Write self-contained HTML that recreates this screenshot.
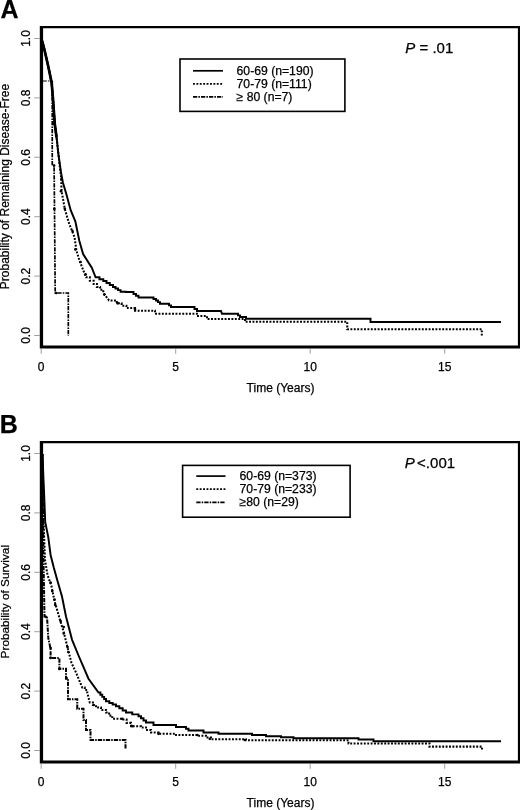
<!DOCTYPE html>
<html lang="en"><head><meta charset="utf-8"><title>Figure</title>
<style>
html,body{margin:0;padding:0;background:#fff;}
body{width:520px;height:810px;overflow:hidden;}
svg{display:block;filter:blur(0.4px);font-family:"Liberation Sans",Arial,Helvetica,sans-serif;fill:#000;}
text{stroke:#000;stroke-width:0.25px;}
.t{font-size:12px;}
.tb{font-size:11.8px;}
.l{font-size:12.2px;}
.p{font-size:15px;}
.L{font-size:25px;font-weight:bold;fill:#000;}
.c{fill:none;stroke:#000;stroke-linejoin:miter;}
.so{stroke-width:1.95;}
.do{stroke-width:2.05;stroke-dasharray:1.9 1.5;}
.dd{stroke-width:1.9;stroke-dasharray:4.3 1.1 1.5 1.1;}
</style></head>
<body>
<svg width="520" height="810" viewBox="0 0 520 810">
<rect width="520" height="810" fill="#fff"/>
<path fill-rule="evenodd" fill="#000" stroke="none" d="M39.8,26 H521 V348.6 H39.8 Z M43.1,28.3 V345.4 H517.9 V28.3 Z"/>
<line x1="34.2" x2="39.8" y1="38.50" y2="38.50" stroke="#777" stroke-width="0.7"/>
<text class="t" transform="translate(29.5,38.50) rotate(-90)" text-anchor="middle">1.0</text>
<line x1="34.2" x2="39.8" y1="97.90" y2="97.90" stroke="#777" stroke-width="0.7"/>
<text class="t" transform="translate(29.5,97.90) rotate(-90)" text-anchor="middle">0.8</text>
<line x1="34.2" x2="39.8" y1="157.30" y2="157.30" stroke="#777" stroke-width="0.7"/>
<text class="t" transform="translate(29.5,157.30) rotate(-90)" text-anchor="middle">0.6</text>
<line x1="34.2" x2="39.8" y1="216.70" y2="216.70" stroke="#777" stroke-width="0.7"/>
<text class="t" transform="translate(29.5,216.70) rotate(-90)" text-anchor="middle">0.4</text>
<line x1="34.2" x2="39.8" y1="276.10" y2="276.10" stroke="#777" stroke-width="0.7"/>
<text class="t" transform="translate(29.5,276.10) rotate(-90)" text-anchor="middle">0.2</text>
<line x1="34.2" x2="39.8" y1="335.50" y2="335.50" stroke="#777" stroke-width="0.7"/>
<text class="t" transform="translate(29.5,335.50) rotate(-90)" text-anchor="middle">0.0</text>
<line x1="41.20" x2="41.20" y1="348.60" y2="353.80" stroke="#777" stroke-width="0.7"/>
<text class="t" x="41.20" y="371.30" text-anchor="middle">0</text>
<line x1="175.70" x2="175.70" y1="348.60" y2="353.80" stroke="#777" stroke-width="0.7"/>
<text class="t" x="175.70" y="371.30" text-anchor="middle">5</text>
<line x1="310.20" x2="310.20" y1="348.60" y2="353.80" stroke="#777" stroke-width="0.7"/>
<text class="t" x="310.20" y="371.30" text-anchor="middle">10</text>
<line x1="444.70" x2="444.70" y1="348.60" y2="353.80" stroke="#777" stroke-width="0.7"/>
<text class="t" x="444.70" y="371.30" text-anchor="middle">15</text>
<text class="t" x="280.5" y="392.40" text-anchor="middle">Time (Years)</text>
<text class="t" transform="translate(9.2,186.50) rotate(-90)" text-anchor="middle">Probability of Remaining Disease-Free</text>
<polyline class="c dd" style="stroke-width:1.1" points="42.50,81.00 52.25,81.00"/>
<polyline class="c" style="stroke-width:2.7" points="42,40.5 44.75,51 48.5,67.5 51.6,82.5 53,99 54.75,124 56.6,137.5"/>
<polyline class="c so" points="42.00,41.00 43.00,44.00 44.75,51.00 48.50,67.50 51.60,82.50 53.00,99.00 54.75,124.00 56.60,137.50 58.50,155.00 61.00,172.50 62.90,182.50 66.60,195.00 70.60,210.00 75.40,221.50 79.30,240.80 83.10,254.00 91.80,267.70 95.60,277.30 99.45,277.30 99.45,279.15 103.30,279.15 103.30,281.00 106.53,281.00 106.53,283.00 109.77,283.00 109.77,285.00 113.00,285.00 113.00,287.00 115.53,287.00 115.53,288.57 118.07,288.57 118.07,290.13 120.60,290.13 120.60,291.70 126.00,291.70 126.00,292.00 133.50,292.00 133.50,294.00 136.00,294.00 136.00,295.75 138.50,295.75 138.50,297.50 151.00,297.50 153.50,297.50 153.50,299.00 156.00,299.00 156.00,300.50 158.00,300.50 158.00,302.12 160.00,302.12 160.00,303.75 167.00,303.75 169.00,303.75 169.00,305.38 171.00,305.38 171.00,307.00 192.00,307.00 194.50,307.00 194.50,309.00 197.00,309.00 197.00,311.00 221.00,311.00 222.00,313.75 236.00,313.75 238.00,313.75 238.00,315.38 240.00,315.38 240.00,317.00 246.00,317.00 246.00,318.75 370.50,318.75 370.50,322.00 501.00,322.00"/>
<polyline class="c do" points="42.00,41.00 43.00,44.00 44.75,51.00 48.50,67.50 51.60,82.50 53.00,99.00 54.75,124.00 56.60,137.50 58.50,155.00 60.50,172.50 61.00,176.00 61.60,191.00 64.75,208.75 68.70,222.50 74.50,237.00 76.40,250.40 79.30,260.00 86.00,277.30 89.85,277.30 89.85,280.65 93.70,280.65 93.70,284.00 96.90,284.00 96.90,286.90 100.10,286.90 100.10,289.80 103.30,289.80 103.30,292.70 109.00,300.40 116.80,300.40 116.80,303.30 121.60,303.30 121.60,305.65 126.40,305.65 126.40,308.00 135.00,308.00 135.00,310.75 151.00,310.75 155.00,310.75 155.00,313.75 192.00,313.75 197.00,313.75 197.00,316.00 203.50,316.00 207.00,316.00 207.00,319.00 245.00,319.00 245.00,321.75 347.25,321.75 347.25,329.20 481.80,329.20 481.80,335.50"/>
<polyline class="c dd" style="stroke-width:1.7" points="52.25,81.00 52.25,165.60 54.10,165.60 54.50,208.75 55.20,293.00 68.30,293.00 68.30,336.00"/>
<g fill="#000"><circle cx="56.2" cy="293.0" r="1.35"/><circle cx="72.5" cy="231.0" r="1.35"/><circle cx="75.4" cy="249.4" r="1.35"/><circle cx="80.6" cy="262.0" r="1.35"/><circle cx="85.6" cy="274.4" r="1.35"/><circle cx="104.3" cy="294.6" r="1.35"/><circle cx="117.7" cy="303.3" r="1.35"/><circle cx="135.0" cy="309.0" r="1.35"/><circle cx="54.1" cy="123.8" r="1.35"/><circle cx="54.1" cy="165.6" r="1.35"/><circle cx="61.6" cy="178.8" r="1.35"/><circle cx="61.0" cy="191.2" r="1.35"/><circle cx="64.8" cy="208.8" r="1.35"/><circle cx="54.3" cy="208.8" r="1.35"/></g>
<rect x="180" y="59" width="164.9" height="52.4" fill="#fff" stroke="#000" stroke-width="1.6"/>
<line class="c so" style="stroke-width:1.7" x1="193" x2="223" y1="70.8" y2="70.8"/>
<text class="l" x="236.6" y="74.90">60-69 (n=190)</text>
<line class="c do" style="stroke-width:1.7" x1="193" x2="223" y1="83.9" y2="83.9"/>
<text class="l" x="236.6" y="87.95">70-79 (n=111)</text>
<line class="c dd" style="stroke-width:1.7" x1="193" x2="223" y1="96.8" y2="96.8"/>
<text class="l" x="236.6" y="101.00">≥ 80 (n=7)</text>
<text class="p" x="405.3" y="53"><tspan font-style="italic">P</tspan> = .01</text>
<text class="L" x="0.6" y="18">A</text>
<path fill-rule="evenodd" fill="#000" stroke="none" d="M39.8,441 H521 V763.6 H39.8 Z M43.1,443.3 V760.4 H517.9 V443.3 Z"/>
<line x1="34.2" x2="39.8" y1="453.50" y2="453.50" stroke="#777" stroke-width="0.7"/>
<text class="t" transform="translate(29.5,453.50) rotate(-90)" text-anchor="middle">1.0</text>
<line x1="34.2" x2="39.8" y1="512.90" y2="512.90" stroke="#777" stroke-width="0.7"/>
<text class="t" transform="translate(29.5,512.90) rotate(-90)" text-anchor="middle">0.8</text>
<line x1="34.2" x2="39.8" y1="572.30" y2="572.30" stroke="#777" stroke-width="0.7"/>
<text class="t" transform="translate(29.5,572.30) rotate(-90)" text-anchor="middle">0.6</text>
<line x1="34.2" x2="39.8" y1="631.70" y2="631.70" stroke="#777" stroke-width="0.7"/>
<text class="t" transform="translate(29.5,631.70) rotate(-90)" text-anchor="middle">0.4</text>
<line x1="34.2" x2="39.8" y1="691.10" y2="691.10" stroke="#777" stroke-width="0.7"/>
<text class="t" transform="translate(29.5,691.10) rotate(-90)" text-anchor="middle">0.2</text>
<line x1="34.2" x2="39.8" y1="750.50" y2="750.50" stroke="#777" stroke-width="0.7"/>
<text class="t" transform="translate(29.5,750.50) rotate(-90)" text-anchor="middle">0.0</text>
<line x1="41.20" x2="41.20" y1="763.60" y2="768.80" stroke="#777" stroke-width="0.7"/>
<text class="t" x="41.20" y="786.30" text-anchor="middle">0</text>
<line x1="175.70" x2="175.70" y1="763.60" y2="768.80" stroke="#777" stroke-width="0.7"/>
<text class="t" x="175.70" y="786.30" text-anchor="middle">5</text>
<line x1="310.20" x2="310.20" y1="763.60" y2="768.80" stroke="#777" stroke-width="0.7"/>
<text class="t" x="310.20" y="786.30" text-anchor="middle">10</text>
<line x1="444.70" x2="444.70" y1="763.60" y2="768.80" stroke="#777" stroke-width="0.7"/>
<text class="t" x="444.70" y="786.30" text-anchor="middle">15</text>
<text class="t" x="280.5" y="807.40" text-anchor="middle">Time (Years)</text>
<text class="tb" transform="translate(9.2,601.70) rotate(-90)" text-anchor="middle">Probability of Survival</text>
<polyline class="c so" points="42.50,454.00 43.50,480.00 44.00,491.00 45.20,522.00 48.30,537.30 50.60,555.00 53.70,567.30 57.50,581.00 62.00,596.50 66.00,616.50 72.00,639.60 78.30,655.00 88.50,678.75 98.50,692.50 100.38,692.50 100.38,694.69 102.25,694.69 102.25,696.88 104.12,696.88 104.12,699.06 106.00,699.06 106.00,701.25 109.33,701.25 109.33,702.92 112.67,702.92 112.67,704.58 116.00,704.58 116.00,706.25 119.33,706.25 119.33,708.33 122.67,708.33 122.67,710.42 126.00,710.42 126.00,712.50 132.25,712.50 132.25,714.38 138.50,714.38 138.50,716.25 141.00,716.25 141.00,718.33 143.50,718.33 143.50,720.42 146.00,720.42 146.00,722.50 153.50,722.50 153.50,725.00 172.00,725.00 176.00,725.00 176.00,727.00 183.50,727.00 186.00,727.00 186.00,728.75 188.50,728.75 188.50,730.50 201.00,730.50 203.50,730.50 203.50,732.50 216.00,732.50 218.50,732.50 218.50,733.75 248.50,733.75 252.00,733.75 252.00,735.00 261.00,735.00 266.00,735.00 266.00,736.25 278.50,736.25 281.00,736.25 281.00,737.25 286.00,737.25 293.50,737.25 293.50,738.25 356.00,738.25 358.50,738.25 358.50,739.50 371.00,739.50 373.50,739.50 373.50,741.20 501.00,741.20"/>
<polyline class="c do" points="42.50,454.00 43.50,520.00 45.00,560.00 47.50,575.00 51.40,585.80 54.50,601.00 59.00,616.50 63.70,632.00 67.50,647.30 71.40,662.70 76.00,672.50 82.25,687.50 84.75,687.50 84.75,690.00 87.25,690.00 87.25,692.50 89.75,702.50 92.88,702.50 92.88,705.00 96.00,705.00 96.00,707.50 101.00,707.50 101.00,710.00 106.00,710.00 106.00,712.50 109.12,712.50 109.12,715.62 112.25,715.62 112.25,718.75 122.25,718.75 122.25,719.50 126.62,719.50 126.62,722.88 131.00,722.88 131.00,726.25 141.00,726.25 141.00,727.50 146.00,727.50 146.00,730.00 151.00,730.00 151.00,732.50 158.50,732.50 158.50,733.75 172.00,733.75 175.00,733.75 175.00,735.00 196.00,735.00 197.00,735.00 197.00,735.75 206.00,735.75 206.00,737.50 211.00,737.50 211.00,739.25 243.50,739.25 246.00,739.25 246.00,740.25 348.50,740.25 348.50,743.40 429.50,743.40 429.50,746.60 482.00,746.60 482.00,750.20"/>
<polyline class="c dd" style="stroke-width:2.0" points="42.50,454.00 43.50,560.00 44.50,616.50 47.00,616.50 48.30,638.00 50.60,649.00 50.60,658.00 59.40,658.00 59.40,668.75 66.00,668.75 66.00,678.75 68.00,678.75 68.00,699.25 77.25,699.25 77.25,708.75 83.50,708.75 83.50,720.00 86.00,720.00 86.00,730.00 90.50,730.00 90.50,740.00 125.50,740.00 125.50,748.75"/>
<g fill="#000"><circle cx="50.6" cy="582.7" r="1.35"/><circle cx="52.2" cy="591.0" r="1.35"/><circle cx="54.5" cy="599.6" r="1.35"/><circle cx="55.2" cy="605.0" r="1.35"/><circle cx="60.6" cy="621.0" r="1.35"/><circle cx="63.7" cy="627.0" r="1.35"/><circle cx="63.7" cy="633.5" r="1.35"/><circle cx="67.5" cy="647.0" r="1.35"/><circle cx="68.3" cy="652.0" r="1.35"/><circle cx="46.0" cy="617.0" r="1.35"/><circle cx="50.6" cy="648.0" r="1.35"/><circle cx="50.6" cy="658.0" r="1.35"/><circle cx="59.4" cy="669.0" r="1.35"/><circle cx="197.2" cy="735.0" r="1.35"/><circle cx="209.8" cy="738.8" r="1.35"/><circle cx="244.8" cy="740.0" r="1.35"/><circle cx="66.5" cy="678.0" r="1.35"/><circle cx="93.5" cy="705.0" r="1.35"/><circle cx="122.2" cy="718.8" r="1.35"/><circle cx="132.2" cy="726.2" r="1.35"/><circle cx="158.5" cy="733.8" r="1.35"/></g>
<rect x="182.6" y="465.4" width="167.5" height="51.8" fill="#fff" stroke="#000" stroke-width="1.6"/>
<line class="c so" style="stroke-width:1.7" x1="196.3" x2="225.5" y1="476.1" y2="476.1"/>
<text class="l" x="239.6" y="480.20">60-69 (n=373)</text>
<line class="c do" style="stroke-width:1.7" x1="196.3" x2="225.5" y1="489.2" y2="489.2"/>
<text class="l" x="239.6" y="493.25">70-79 (n=233)</text>
<line class="c dd" style="stroke-width:1.7" x1="196.3" x2="225.5" y1="502.3" y2="502.3"/>
<text class="l" x="239.6" y="506.30">≥80 (n=29)</text>
<text class="p" x="404.8" y="468.2"><tspan font-style="italic">P</tspan><tspan dx="2.3">&lt;.001</tspan></text>
<text class="L" x="-0.3" y="432.6">B</text>
</svg>
</body></html>
